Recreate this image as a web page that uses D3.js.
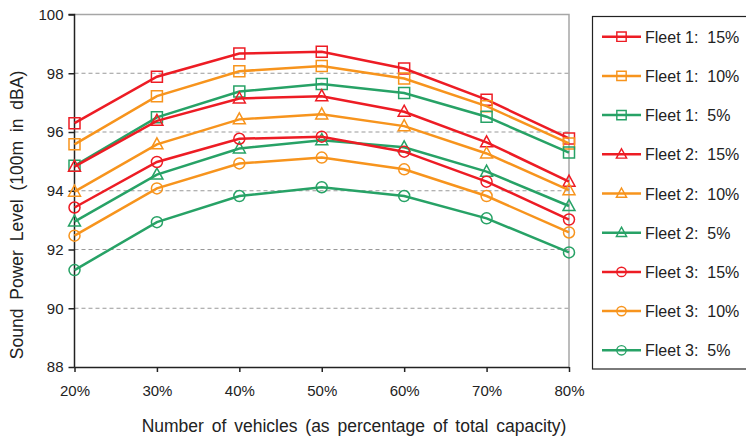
<!DOCTYPE html>
<html>
<head>
<meta charset="utf-8">
<script src="https://cdn.jsdelivr.net/npm/d3@7"></script>
<style>
  body { margin: 0; background: #fff; }
  text { font-family: "Liberation Sans", Arial, sans-serif; fill: #222; }
</style>
</head>
<body>
<div id="chart"></div>
<script>
// x categories (percentage of total capacity)
const categories = ["20%", "30%", "40%", "50%", "60%", "70%", "80%"]
const yTicks = [88, 90, 92, 94, 96, 98, 100]

// series values
const fleet1_15 = [96.3, 97.88, 98.67, 98.73, 98.16, 97.1, 95.78]
const fleet1_10 = [95.58, 97.22, 98.07, 98.25, 97.82, 96.88, 95.61]
const fleet1_5 = [94.85, 96.5, 97.38, 97.63, 97.33, 96.52, 95.3]
const fleet2_15 = [94.82, 96.38, 97.14, 97.22, 96.69, 95.65, 94.31]
const fleet2_10 = [93.97, 95.58, 96.43, 96.6, 96.2, 95.27, 94.02]
const fleet2_5 = [92.95, 94.55, 95.44, 95.72, 95.48, 94.65, 93.48]
const fleet3_15 = [93.43, 94.98, 95.77, 95.84, 95.33, 94.31, 93.02]
const fleet3_10 = [92.47, 94.08, 94.93, 95.13, 94.73, 93.82, 92.58]
const fleet3_5 = [91.3, 92.93, 93.82, 94.12, 93.82, 93.06, 91.9]

const RED = "#ed1c24", ORANGE = "#f7941d", GREEN = "#27a266"

const series = [
  {name: "Fleet 1:  15%", values: fleet1_15, color: RED, shape: "square"},
  {name: "Fleet 1:  10%", values: fleet1_10, color: ORANGE, shape: "square"},
  {name: "Fleet 1:  5%", values: fleet1_5, color: GREEN, shape: "square"},
  {name: "Fleet 2:  15%", values: fleet2_15, color: RED, shape: "triangle"},
  {name: "Fleet 2:  10%", values: fleet2_10, color: ORANGE, shape: "triangle"},
  {name: "Fleet 2:  5%", values: fleet2_5, color: GREEN, shape: "triangle"},
  {name: "Fleet 3:  15%", values: fleet3_15, color: RED, shape: "circle"},
  {name: "Fleet 3:  10%", values: fleet3_10, color: ORANGE, shape: "circle"},
  {name: "Fleet 3:  5%", values: fleet3_5, color: GREEN, shape: "circle"}
]

const width = 746, height = 437
const margin = {top: 14.5, left: 74.5, right: 177, bottom: 70}

const svg = d3.select("#chart").append("svg")
  .attr("width", width).attr("height", height)

const x = d3.scalePoint().domain(categories)
  .range([margin.left, width - margin.right])
const y = d3.scaleLinear().domain([88, 100])
  .range([height - margin.bottom, margin.top])

// marker path generators
function markerPath(shape) {
  if (shape === "square") return "M-5.5,-5.5h11v11h-11z"
  if (shape === "triangle") return "M0,-6.5L6,4.5L-6,4.5z"
  return d3.symbol().type(d3.symbolCircle).size(Math.PI * 5.5 * 5.5)()
}

// grid lines
svg.append("g")
  .selectAll("line")
  .data(yTicks.filter(d => d > 88 && d < 100))
  .join("line")
  .attr("x1", margin.left).attr("x2", width - margin.right)
  .attr("y1", d => y(d)).attr("y2", d => y(d))
  .attr("stroke", "#999").attr("stroke-width", 1)
  .attr("stroke-dasharray", "4,3")

// top and right frame
svg.append("path")
  .attr("d", `M${margin.left},${y(100)}H${width - margin.right}V${y(88)}`)
  .attr("fill", "none").attr("stroke", "#a6a6a6").attr("stroke-width", 1.5)

// axes
const yAxis = svg.append("g")
  .attr("transform", `translate(${margin.left},0)`)
  .call(d3.axisLeft(y).tickValues(yTicks).tickSize(6).tickPadding(5))
const xAxis = svg.append("g")
  .attr("transform", `translate(0,${y(88)})`)
  .call(d3.axisBottom(x).tickSize(5).tickPadding(13))

for (const ax of [yAxis, xAxis]) {
  ax.select(".domain").attr("stroke", "#222").attr("stroke-width", 1.5)
  ax.selectAll(".tick line").attr("stroke", "#222").attr("stroke-width", 1.5)
  ax.selectAll(".tick text")
    .style("font-family", "'Liberation Sans', Arial, sans-serif")
    .style("font-size", "15px").attr("fill", "#222")
}
// the x domain should not have the outer tick hook
xAxis.select(".domain").attr("d", `M${margin.left},0.5H${width - margin.right}`)
yAxis.select(".domain").attr("d", `M-6,${y(100)}H0V${y(88)}`)

// lines and markers
const line = d3.line()
  .x((d, i) => x(categories[i]))
  .y(d => y(d))

const seriesG = svg.append("g")
  .selectAll("g")
  .data(series)
  .join("g")

seriesG.append("path")
  .attr("d", d => line(d.values))
  .attr("fill", "none")
  .attr("stroke", d => d.color)
  .attr("stroke-width", 2.5)

seriesG.each(function(s) {
  d3.select(this).selectAll("path.mk")
    .data(s.values)
    .join("path")
    .attr("class", "mk")
    .attr("d", markerPath(s.shape))
    .attr("transform", (d, i) => `translate(${x(categories[i])},${y(d)})`)
    .attr("fill", "none")
    .attr("stroke", s.color)
    .attr("stroke-width", 1.5)
})

// legend
const legend = svg.append("g")
legend.append("rect")
  .attr("x", 592.5).attr("y", 16.5)
  .attr("width", 170).attr("height", 352.5)
  .attr("fill", "#fff").attr("stroke", "#222").attr("stroke-width", 1.2)

const item = legend.selectAll("g.item")
  .data(series)
  .join("g")
  .attr("class", "item")
  .attr("transform", (d, i) => `translate(0,${36.7 + i * 39.2})`)

item.append("line")
  .attr("x1", 602).attr("x2", 641)
  .attr("stroke", d => d.color).attr("stroke-width", 2.5)
item.append("path")
  .attr("d", d => markerPath(d.shape))
  .attr("transform", "translate(621.5,0) scale(0.85)")
  .attr("fill", "none")
  .attr("stroke", d => d.color).attr("stroke-width", 1.7)
item.append("text")
  .attr("x", 645).attr("y", 6)
  .style("font-size", "16px")
  .style("white-space", "pre")
  .attr("xml:space", "preserve")
  .text(d => d.name)

// axis titles
svg.append("text")
  .attr("transform", "translate(23,215) rotate(-90)")
  .attr("text-anchor", "middle")
  .style("font-size", "17.5px")
  .style("word-spacing", "4px")
  .text("Sound Power Level (100m in dBA)")

svg.append("text")
  .attr("x", 354).attr("y", 432)
  .attr("text-anchor", "middle")
  .style("font-size", "17.5px")
  .style("word-spacing", "3px")
  .text("Number of vehicles (as percentage of total capacity)")
</script>
</body>
</html>
